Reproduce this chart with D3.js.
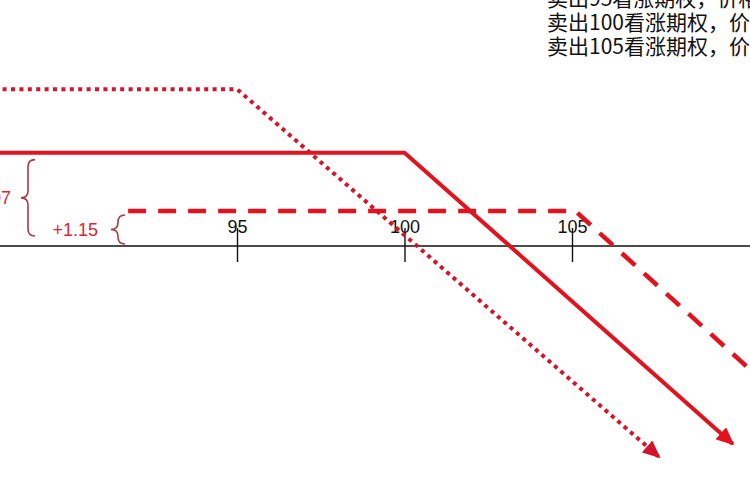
<!DOCTYPE html>
<html>
<head>
<meta charset="utf-8">
<script src="https://cdn.jsdelivr.net/npm/d3@7"></script>
<style>
  body { margin: 0; background: #fff; }
  svg { display: block; }
</style>
</head>
<body>
<div id="container"></div>
<script>
/* CONSTANTS AND GLOBALS */
const width = 750,
  height = 500;

/* DATA */
const strikes = [95, 100, 105];
const tickLabels = ["95", "100", "105"];
const premiums = [5.16, 3.07, 1.15];
const premiumLabels = ["+3.07", "+1.15"];
const titles = [
  "卖出95看涨期权，价格5.16",
  "卖出100看涨期权，价格3.07",
  "卖出105看涨期权，价格1.15"
];
// payoff lines: [price, profit]
const sell95 = [[87, 5.16], [95, 5.16], [107.6, -6.94]];
const sell100 = [[87, 3.07], [100, 3.07], [109.8, -6.51]];
const sell105 = [[91.75, 1.15], [105.1, 1.15], [111, -4.75]];

/* SCALES */
const xScale = d3.scaleLinear()
  .domain([95, 105])
  .range([237, 572]);

const yScale = d3.scaleLinear()
  .domain([-8, 6])
  .range([246 + 8 * 30.4, 246 - 6 * 30.4]);

const svg = d3.select("#container")
  .append("svg")
  .attr("width", width)
  .attr("height", height);

// arrow heads
const defs = svg.append("defs");
["solidHead", "dotHead"].forEach((id, i) => {
  defs.append("marker")
    .attr("id", id)
    .attr("markerUnits", "userSpaceOnUse")
    .attr("viewBox", "0 0 18 16")
    .attr("markerWidth", 18)
    .attr("markerHeight", 16)
    .attr("refX", 16)
    .attr("refY", 8)
    .attr("orient", "auto")
    .append("path")
    .attr("d", "M0,0 L18,8 L0,16 Z")
    .attr("fill", i == 0 ? "#e2131f" : "#d4142a");
});

// x axis
const y0 = yScale(0);
svg.append("line")
  .attr("x1", 0)
  .attr("x2", width)
  .attr("y1", y0)
  .attr("y2", y0)
  .attr("stroke", "#111")
  .attr("stroke-width", 1.4);

const xAxis = d3.axisBottom(xScale)
  .tickValues(strikes)
  .tickFormat((d, i) => tickLabels[i])
  .tickSizeOuter(0);

const axisG = svg.append("g")
  .attr("transform", `translate(0, ${y0})`)
  .call(xAxis);
axisG.select(".domain").remove();
axisG.selectAll(".tick line")
  .attr("y1", -18)
  .attr("y2", 16)
  .attr("stroke", "#111")
  .attr("stroke-width", 1.4);
axisG.selectAll(".tick text")
  .attr("y", -13)
  .attr("dy", 0)
  .attr("fill", "#111")
  .style("font-family", "'Liberation Sans', Arial, sans-serif")
  .style("font-size", "18px");

// payoff lines
const line = d3.line()
  .x(d => xScale(d[0]))
  .y(d => yScale(d[1]));

svg.append("path")
  .datum(sell95)
  .attr("d", line)
  .attr("fill", "none")
  .attr("stroke", "#d4142a")
  .attr("stroke-width", 4)
  .attr("stroke-dasharray", "4 4.4")
  .attr("marker-end", "url(#dotHead)");

svg.append("path")
  .datum(sell100)
  .attr("d", line)
  .attr("fill", "none")
  .attr("stroke", "#e2131f")
  .attr("stroke-width", 4)
  .attr("marker-end", "url(#solidHead)");

svg.append("path")
  .datum(sell105)
  .attr("d", line)
  .attr("fill", "none")
  .attr("stroke", "#e2131f")
  .attr("stroke-width", 4.5)
  .attr("stroke-dasharray", "18 12");

// braces for premiums
const brace = (x, top, bottom) => {
  const mid = (top + bottom) / 2, r = 7;
  return `M${x + 7},${top} Q${x},${top} ${x},${top + r} L${x},${mid - r} Q${x},${mid} ${x - 7},${mid}` +
    ` Q${x},${mid} ${x},${mid + r} L${x},${bottom - r} Q${x},${bottom} ${x + 7},${bottom}`;
};

const braceInfo = [
  { x: 28, top: yScale(premiums[1]) + 7, bottom: y0 - 10, tx: 11, label: premiumLabels[0] },
  { x: 118, top: yScale(premiums[2]) + 4, bottom: y0 - 2, tx: 98, label: premiumLabels[1] }
];

braceInfo.forEach(b => {
  svg.append("path")
    .attr("d", brace(b.x, b.top, b.bottom))
    .attr("fill", "none")
    .attr("stroke", "#a63a45")
    .attr("stroke-width", 1.6);
  svg.append("text")
    .attr("x", b.tx)
    .attr("y", (b.top + b.bottom) / 2 + 6)
    .attr("text-anchor", "end")
    .attr("fill", "#d42a35")
    .style("font-family", "'Liberation Sans', Arial, sans-serif")
    .style("font-size", "18px")
    .text(b.label);
});

// title lines, top right
svg.selectAll(".title")
  .data(titles)
  .join("text")
  .attr("class", "title")
  .attr("x", 547)
  .attr("y", (d, i) => 6 + i * 24)
  .attr("fill", "#111")
  .style("font-family", "'Noto Sans CJK SC', sans-serif")
  .style("font-size", "21px")
  .text(d => d);
</script>
</body>
</html>
